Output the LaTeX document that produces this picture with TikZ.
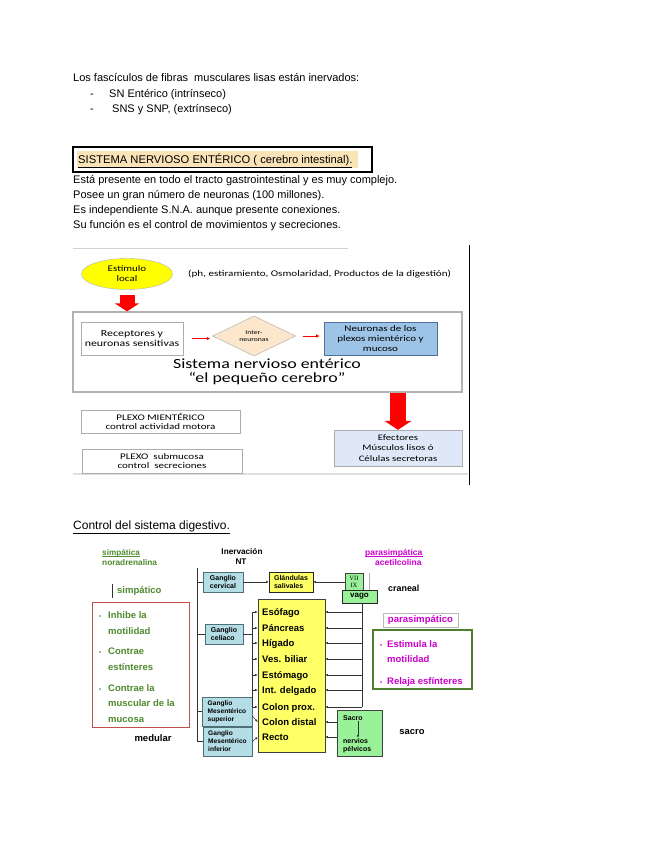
\documentclass[tikz,border=0pt]{standalone}
\usepackage{fontspec}
\setmainfont{Liberation Sans}
\newfontfamily\calib[FakeStretch=1.28]{Carlito}
\newfontfamily\serifx{Liberation Serif}
\usetikzlibrary{shapes.geometric,arrows.meta}
\definecolor{hlc}{HTML}{FBE3B8}
\definecolor{ellc}{HTML}{FFFF00}
\definecolor{dmc}{HTML}{FCE6CC}
\definecolor{nbl}{HTML}{9DC3E6}
\definecolor{nbd}{HTML}{4F6F9F}
\definecolor{efc}{HTML}{DEE8F6}
\definecolor{gbl}{HTML}{B5DDE6}
\definecolor{gbd}{HTML}{4F6F78}
\definecolor{ylb}{HTML}{FFFF66}
\definecolor{grn}{HTML}{99F299}
\definecolor{olv}{HTML}{4E8A2E}
\definecolor{mag}{HTML}{CC00CC}
\definecolor{rbx}{HTML}{C0504D}
\definecolor{gbx}{HTML}{4E7F2E}
\begin{document}
\begin{tikzpicture}[x=1pt,y=-1pt,
  body/.style={anchor=base west, inner sep=0, font=\fontsize{11}{12}\selectfont},
  sl/.style={draw=gray!65, fill=white, inner sep=0, align=center},
  redthin/.style={red, line width=1pt, -{Latex[length=3.5pt,width=3.5pt]}},
  bx/.style={inner sep=0, align=center, font=\bfseries\fontsize{7}{8}\selectfont},
  gang/.style={bx, fill=gbl, draw=gbd, line width=0.7pt, align=left},
  org/.style={anchor=west, inner sep=0, text height=7pt, text depth=0pt, font=\bfseries\fontsize{9.5}{11}\selectfont},
  lbl/.style={inner sep=0, font=\bfseries\fontsize{8.2}{9}\selectfont},
  gtx/.style={anchor=base west, inner sep=0, text=olv, font=\bfseries\fontsize{9.5}{11}\selectfont},
  mtx/.style={anchor=base west, inner sep=0, text=mag, font=\bfseries\fontsize{9.5}{11}\selectfont},
  arr/.style={gray!40!black, line width=0.5pt, -{Latex[length=2.6pt,width=2.4pt]}},
  ln/.style={gray!40!black, line width=0.5pt}]
\useasboundingbox[fill=white] (0,0) rectangle (655,848);

% ---------- top text ----------
\node[body] (l1) at (73,82) {Los fascículos de fibras\ \ musculares lisas están inervados:};
\node[body] (d1) at (90,98) {-};
\node[body] (l2) at (109,98) {SN Entérico (intrínseco)};
\node[body] (d2) at (90,113) {-};
\node[body] (l3) at (112,113) {SNS y SNP, (extrínseco)};

\node[draw=black, line width=1.2pt, minimum width=299, minimum height=25, inner sep=0] (tbox) at (222.5,159.5) {};
\fill[hlc] (77,151) rectangle (358,168);
\node[body, font=\fontsize{11.2}{12}\selectfont] (ttl) at (78,163) {\underline{SISTEMA NERVIOSO ENTÉRICO ( cerebro intestinal).}};

\node[body] (p1) at (73,183) {Está presente en todo el tracto gastrointestinal y es muy complejo.};
\node[body] (p2) at (73,198) {Posee un gran número de neuronas (100 millones).};
\node[body] (p3) at (73,213) {Es independiente S.N.A. aunque presente conexiones.};
\node[body] (p4) at (73,228) {Su función es el control de movimientos y secreciones.};

% ---------- slide ----------
\draw[gray!35, line width=1pt] (73,248) -- (348,248);
\draw[black, line width=0.8pt] (469,245) -- (469,485);
\draw[gray!25, line width=2pt] (73,474) -- (468,474);

\node[ellipse, fill=ellc, draw=gray!60, minimum width=91, minimum height=31, inner sep=0, align=center,
      font=\calib\fontsize{8.6}{10}\selectfont] (ell) at (127,274) {Estímulo\\local};
\node[anchor=west, inner sep=0, font=\calib\fontsize{8.7}{10}\selectfont] (ph) at (188,274)
      {(ph, estiramiento, Osmolaridad, Productos de la digestión)};

\node[draw=gray!60, line width=1.2pt, minimum width=389, minimum height=80, inner sep=0] (sne) at (267.5,352) {};
\draw[red, line width=15pt, -{Triangle[length=8pt,width=24pt]}] ([yshift=-5.5pt]ell.south) -- (sne.north -| ell.south);

\node[sl, minimum width=102, minimum height=33, font=\calib\fontsize{9.3}{10.5}\selectfont] (rec) at (132,338.5) {Receptores y\\neuronas sensitivas};
\node[diamond, fill=dmc, draw=gray!70, minimum width=83, minimum height=38, inner sep=0, align=center,
      font=\calib\fontsize{6}{7}\selectfont] (dia) at (254,336) {Inter-\\neuronas};
\node[sl, fill=nbl, draw=nbd, line width=0.8pt, minimum width=113, minimum height=33, font=\calib\fontsize{8.6}{10}\selectfont] (neu) at (380.5,338.5)
      {Neuronas de los\\plexos mientérico y\\mucoso};
\draw[redthin, shorten <=9pt, shorten >=2pt] (rec.east) -- (rec.east -| dia.west);
\draw[redthin, shorten <=7pt, shorten >=4pt] (dia.east) -- (dia.east -| neu.west);

\node[inner sep=0, align=center, font=\calib\fontsize{14}{13.5}\selectfont] (sname) at (267,372)
      {Sistema nervioso entérico\\“el pequeño cerebro”};

\node[sl, minimum width=159, minimum height=23, font=\calib\fontsize{8.6}{9.5}\selectfont] (pm) at (160.5,421.5)
      {PLEXO MIENTÉRICO\\control actividad motora};
\node[sl, minimum width=160, minimum height=24, font=\calib\fontsize{8.6}{9.5}\selectfont] (ps) at (162,461)
      {PLEXO\ \ submucosa\\control\ \ secreciones};
\node[sl, fill=efc, minimum width=128, minimum height=36, font=\calib\fontsize{8.4}{10.5}\selectfont] (ef) at (398,448)
      {Efectores\\Músculos lisos ó\\Células secretoras};
\draw[red, line width=16pt, -{Triangle[length=9pt,width=27pt]}] (sne.south -| ef.north) -- (ef.north);

% ---------- control del sistema digestivo ----------
\node[body, font=\fontsize{12}{13}\selectfont] (ctl) at (73,529) {\underline{Control del sistema digestivo.}};

\node[anchor=base west, inner sep=0, text=olv, font=\bfseries\fontsize{8.2}{9}\selectfont] (sim) at (102,555) {simpática};
\draw[olv, line width=0.5pt] ([yshift=-1.3pt]sim.base west) -- ([yshift=-1.3pt]sim.base east);
\node[anchor=base west, inner sep=0, text=olv, font=\bfseries\fontsize{8.3}{9}\selectfont] (nor) at (102,565) {noradrenalina};
\node[lbl] (inerv) at (242,552) {Inervación};
\node[lbl] (nt) at (241,562) {NT};
\node[anchor=base west, inner sep=0, text=mag, font=\bfseries\fontsize{8.5}{9}\selectfont] (par) at (365,555) {parasimpática};
\draw[mag, line width=0.5pt] ([yshift=-1.3pt]par.base west) -- ([yshift=-1.3pt]par.base east);
\node[anchor=base west, inner sep=0, text=mag, font=\bfseries\fontsize{8.5}{9}\selectfont] (ace) at (375,565) {acetilcolina};

\draw[gray!40!black, line width=1pt] (112,584) -- (112,598);
\node[anchor=west, inner sep=0, text=olv, font=\bfseries\fontsize{9.5}{11}\selectfont] (simp) at (117,591) {simpático};

\node[draw=rbx, line width=1pt, minimum width=97, minimum height=125, inner sep=0] (rbox) at (140.5,664.5) {};
\node[gtx] (b1) at (99,618) {\fontsize{6}{7}\selectfont•};
\node[gtx] (s1) at (108,618) {Inhibe la};
\node[gtx] (s2) at (108,634) {motilidad};
\node[gtx] (b2) at (99,654) {\fontsize{6}{7}\selectfont•};
\node[gtx] (s3) at (108,654) {Contrae};
\node[gtx] (s4) at (108,670) {estínteres};
\node[gtx] (b3) at (99,691) {\fontsize{6}{7}\selectfont•};
\node[gtx] (s5) at (108,691) {Contrae la};
\node[gtx] (s6) at (108,706) {muscular de la};
\node[gtx] (s7) at (108,722) {mucosa};
\node[lbl, font=\bfseries\fontsize{9.5}{10}\selectfont] (med) at (153,738) {medular};

% ganglia
\node[gang, minimum width=40, minimum height=20] (cerv) at (223,582) {Ganglio\\cervical};
\node[gang, minimum width=38, minimum height=20] (cel) at (224,634) {Ganglio\\celíaco};
\node[gang, minimum width=50, minimum height=29, font=\bfseries\fontsize{6.6}{8}\selectfont] (sup) at (227,711.5) {Ganglio\\Mesentérico\\superior};
\node[gang, minimum width=49, minimum height=29, font=\bfseries\fontsize{6.6}{8}\selectfont] (inf) at (227.5,741.5) {Ganglio\\Mesentérico\\inferior};
\node[bx, fill=ylb, draw=gray!30!black, line width=0.6pt, minimum width=44, minimum height=20, align=left] (glan) at (291,582) {Glándulas\\salivales};
\node[bx, fill=grn, draw=gray!50!black, line width=0.6pt, minimum width=18, minimum height=17, font=\serifx\fontsize{6.5}{7}\selectfont] (vii) at (354,581.5) {VII\\IX};
\node[bx, fill=grn, draw=gray!30!black, line width=0.6pt, minimum width=35, minimum height=13, font=\bfseries\fontsize{8}{9}\selectfont] (vago) at (359.5,596.5) {vago};
\draw[gray!60, line width=0.6pt] (369,573) -- (369,590);
\node[anchor=west, inner sep=0, font=\bfseries\fontsize{8.9}{10}\selectfont] (cran) at (388,588) {craneal};

% yellow organ box
\node[fill=ylb, draw=gray!50!black, line width=0.6pt, minimum width=67, minimum height=153, inner sep=0] (yb) at (291.5,675.5) {};
\node[org] (o1) at (262,612) {Esófago};
\node[org] (o2) at (262,628) {Páncreas};
\node[org] (o3) at (262,643) {Hígado};
\node[org] (o4) at (262,659) {Ves. biliar};
\node[org] (o5) at (262,675) {Estómago};
\node[org] (o6) at (262,690) {Int. delgado};
\node[org] (o7) at (262,707) {Colon prox.};
\node[org] (o8) at (262,722) {Colon distal};
\node[org] (o9) at (262,737) {Recto};

% sacro box
\node[fill=grn, draw=gray!50!black, line width=0.6pt, minimum width=45, minimum height=46, inner sep=0] (sac) at (359.5,733) {};
\node[anchor=base west, inner sep=0, font=\bfseries\fontsize{7}{8}\selectfont] (sacT) at (343,720) {Sacro};
\node[anchor=base west, inner sep=0, font=\bfseries\fontsize{7}{8}\selectfont] (nerv) at (343,743) {nervios};
\node[anchor=base west, inner sep=0, font=\bfseries\fontsize{7}{8}\selectfont] (pelv) at (343,751.5) {pélvicos};
\coordinate (sa1) at ([xshift=5pt,yshift=-1pt]sacT.south);
\draw[arr] (sa1) -- (sa1 |- nerv.north);
\node[lbl, font=\bfseries\fontsize{9.4}{10}\selectfont] (sacl) at (412,732) {sacro};

% parasimpatico boxes
\node[draw=gray!55, line width=0.8pt, minimum width=75, minimum height=14, inner sep=0, text=mag,
      font=\bfseries\fontsize{9.6}{10}\selectfont] (pbox) at (420.5,620) {parasimpático};
\node[draw=gbx, line width=1.5pt, minimum width=99, minimum height=59, inner sep=0] (gbox) at (422.5,659.5) {};
\node[mtx] (m0) at (380,647) {\fontsize{6}{7}\selectfont•};
\node[mtx] (m1) at (387,647) {Estimula la};
\node[mtx] (m2) at (387,662) {motilidad};
\node[mtx] (m3) at (380,684) {\fontsize{6}{7}\selectfont•};
\node[mtx] (m4) at (387,684) {Relaja esfínteres};

% connectors
\coordinate (vt) at (197,568);
\draw[ln] (vt) -- (vt |- inf.west);
\draw[ln] (vt |- cerv.west) -- (cerv.west);
\draw[ln] (vt |- cel.west) -- (cel.west);
\draw[ln] (vt |- sup.west) -- (sup.west);
\draw[ln] (vt |- inf.west) -- (inf.west);

\draw[arr] (cerv.east) -- (glan.west);
\draw[arr] (vii.west |- glan.east) -- (glan.east);

\coordinate (lvt) at (252,612);
\coordinate (rvx) at (362,603);
\draw[ln] (lvt) -- (lvt |- o7.west);
\draw[ln] (cel.east) -- (lvt |- cel.east);
\draw[ln] (rvx) -- (rvx |- o7.west);
\foreach \o in {o1,o2,o3,o4,o5,o6,o7}{
  \draw[arr] (lvt |- \o.west) -- (yb.west |- \o.west);
  \draw[arr] (rvx |- \o.west) -- (yb.east |- \o.west);
}
\draw[arr] ([yshift=-4.5pt]sup.east) -- (yb.west |- o8.west);
\draw[arr] (inf.east) -- (yb.west |- o9.west);
\draw[arr] (sac.west |- o8.west) -- (yb.east |- o8.west);
\draw[arr] (sac.west |- o9.west) -- (yb.east |- o9.west);
\end{tikzpicture}
\end{document}
